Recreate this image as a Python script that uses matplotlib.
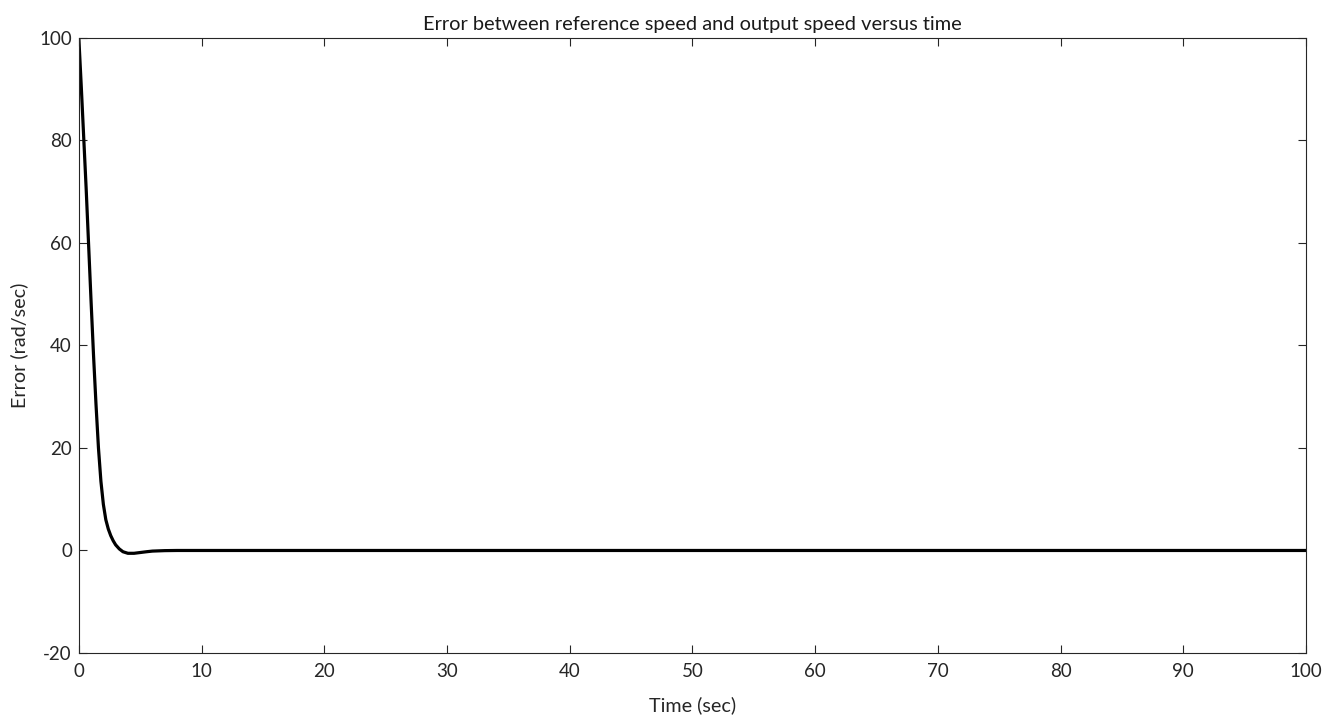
import matplotlib
matplotlib.use("Agg")
import matplotlib.pyplot as plt

# Speed error of the closed-loop response (rad/sec) sampled over time (sec)
time_s = [0.0, 0.2, 0.4, 0.6, 0.8, 1.0, 1.2, 1.4, 1.6, 1.8, 2.0, 2.2, 2.4,
          2.6, 2.8, 3.0, 3.3, 3.6, 4.0, 4.5, 5.0, 5.5, 6.0, 7.0, 8.0, 100.0]
error = [100.0, 90.5, 80.5, 70.5, 59.5, 48.5, 38.0, 28.5, 20.0, 13.5, 9.0,
         6.0, 4.2, 2.9, 1.9, 1.1, 0.3, -0.25, -0.55, -0.55, -0.4, -0.25,
         -0.12, -0.03, 0.0, 0.0]

x_ticks = [0, 10, 20, 30, 40, 50, 60, 70, 80, 90, 100]
y_ticks = [-20, 0, 20, 40, 60, 80, 100]

plt.rcParams['font.family'] = ['Lato', 'DejaVu Sans']
plt.rcParams['axes.unicode_minus'] = False

fig = plt.figure(figsize=(13.36, 7.17), dpi=100)
ax = fig.add_axes([0.059, 0.0893, 0.9185, 0.8577])

ax.plot(time_s, error, color='black', linewidth=2.3, solid_capstyle='round')

ax.set_xlim(0, 100)
ax.set_ylim(-20, 100)
ax.set_xticks(x_ticks)
ax.set_yticks(y_ticks)
ax.tick_params(direction='in', length=6, width=0.8, top=True, right=True,
               labelsize=13.5, colors='#262626')
ax.tick_params(axis='x', pad=7)
ax.tick_params(axis='y', pad=5)
for side in ax.spines.values():
    side.set_color('#262626')
    side.set_linewidth(0.8)

ax.set_title('Error between reference speed and output speed versus time',
             fontsize=14.4, color='#1a1a1a', pad=6)
ax.set_xlabel('Time (sec)', fontsize=14.2, color='#262626', labelpad=12)
ax.set_ylabel('Error (rad/sec)', fontsize=14.2, color='#262626', labelpad=8)

fig.savefig('out.png', dpi=100)
